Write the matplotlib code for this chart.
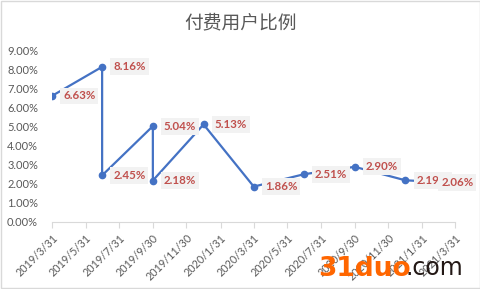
import matplotlib
matplotlib.use("Agg")
import matplotlib.pyplot as plt
import pandas as pd

plt.rcParams['font.family'] = ['Lato', 'Noto Sans CJK SC', 'DejaVu Sans']

dates = pd.to_datetime(['2019-03-31', '2019-06-30', '2019-06-30', '2019-09-30', '2019-09-30',
                        '2019-12-31', '2020-03-31', '2020-06-30', '2020-09-30', '2020-12-31',
                        '2021-03-31'])
ratio = [6.63, 8.16, 2.45, 5.04, 2.18, 5.13, 1.86, 2.51, 2.90, 2.19, 2.06]
labels = ['%.2f%%' % v for v in ratio]
tick_dates = pd.date_range('2019-03-31', '2021-03-31', freq='2ME')
tick_labels = ['%d/%d/%d' % (d.year, d.month, d.day) for d in tick_dates]

fig = plt.figure(figsize=(4.81, 2.89), dpi=100)
ax = fig.add_axes([0.108, 0.232, 0.838, 0.592])

ax.plot(dates, [v / 100 for v in ratio], color='#4472C4', lw=1.6, marker='o', ms=4.5, zorder=2)

# labels sit right of each point, the last one is pushed left by the edge
for i, (d, v, t) in enumerate(zip(dates, ratio, labels)):
    dx = 8 if i < len(ratio) - 1 else -10
    ax.annotate(t, (d, v / 100), xytext=(dx, 0), textcoords='offset points', ha='left', va='center',
                fontsize=8.3, fontweight='bold', color='#C0504D', zorder=3,
                bbox=dict(boxstyle='square,pad=0.25', fc='#F2F2F2', ec='none'))

ax.set_xlim(tick_dates[0], tick_dates[-1])
ax.set_ylim(0, 0.09)
ax.set_yticks([i / 100 for i in range(10)])
ax.set_yticklabels(['%.2f%%' % i for i in range(10)])
ax.set_xticks(tick_dates)
ax.set_xticklabels(tick_labels, rotation=45, ha='right', rotation_mode='anchor')
ax.tick_params(axis='y', length=0, labelsize=8, labelcolor='#595959', pad=10)
ax.tick_params(axis='x', length=4, color='#D9D9D9', labelsize=7.8, labelcolor='#595959')
for s in ['top', 'right', 'left']:
    ax.spines[s].set_visible(False)
ax.spines['bottom'].set_color('#D9D9D9')

fig.text(0.5, 0.92, '付费用户比例', ha='center', va='center', fontsize=13.5, color='#595959',
         family=['Noto Sans CJK SC'])

fig.text(0.661, 0.045, '31duo', fontsize=19, fontweight='bold', color='#FF6600', family=['DejaVu Sans'])
fig.text(0.842, 0.05, '.com', fontsize=17, color='#231815', family=['DejaVu Sans'])

fig.patches.append(plt.Rectangle((0.002, 0.003), 0.996, 0.994, transform=fig.transFigure,
                                 fill=False, ec='#D9D9D9', lw=1))

fig.savefig('out.png', dpi=100)
